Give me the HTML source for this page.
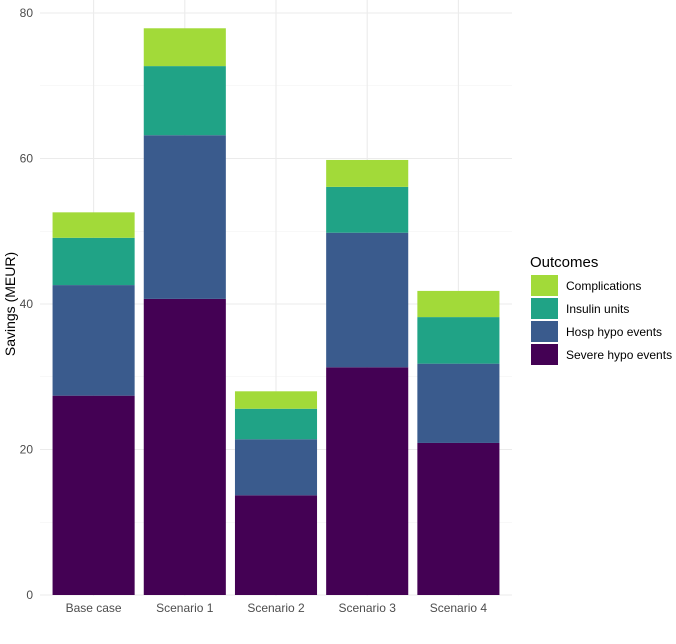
<!DOCTYPE html>
<html><head><meta charset="utf-8"><style>
body{margin:0;background:#fff;font-family:"Liberation Sans",Arial,sans-serif;}
</style></head><body>
<svg id="chart" width="676" height="639" xmlns="http://www.w3.org/2000/svg"></svg>
<script>
const categories=["Base case","Scenario 1","Scenario 2","Scenario 3","Scenario 4"];
const severe=[27.4,40.7,13.7,31.3,20.9];
const hosp=[15.2,22.5,7.7,18.5,10.9];
const insulin=[6.5,9.5,4.2,6.3,6.4];
const complications=[3.5,5.2,2.4,3.7,3.6];
const yTicks=[0,20,40,60,80];
const seriesNames=["Severe hypo events","Hosp hypo events","Insulin units","Complications"];
const colors=["#440154","#3A5B8D","#20A386","#A2DA39"];
const series=[severe,hosp,insulin,complications];

const svg=document.getElementById('chart');
const NS="http://www.w3.org/2000/svg";
const L=48,R=504,y0=595,yTop=13,yMax=80;
const GL=40,GR=512;
const y=v=>y0-(v/yMax)*(y0-yTop);
const band=(R-L)/categories.length;
const xc=i=>L+band*(i+0.5);
const bw=band*0.9;
function el(t,a,txt){const e=document.createElementNS(NS,t);for(const k in a)e.setAttribute(k,a[k]);if(txt!=null)e.textContent=txt;svg.appendChild(e);return e;}
for(let i=0;i<yTicks.length-1;i++){const m=(yTicks[i]+yTicks[i+1])/2;
 const g=el('line',{x1:GL,x2:GR,y1:y(m),y2:y(m),stroke:'#f2f2f2','stroke-width':0.6});
 
 }
yTicks.forEach(t=>{
 const g=el('line',{x1:GL,x2:GR,y1:y(t),y2:y(t),stroke:'#ebebeb','stroke-width':1.1});
 
 
 const tx=el('text',{x:33,y:y(t)+4,'text-anchor':'end','font-size':12,fill:'#4d4d4d'},t);
 
 
});
categories.forEach((c,i)=>{
 const g=el('line',{x1:xc(i),x2:xc(i),y1:0,y2:y0+1,stroke:'#ebebeb','stroke-width':1.1});
 
 
});
categories.forEach((c,i)=>{
 let cum=0;
 series.forEach((s,k)=>{
  const r=el('rect',{x:xc(i)-bw/2,y:y(cum+s[i]),width:bw,height:y(cum)-y(cum+s[i]),fill:colors[k]});
  
  
  cum+=s[i];
 });
 const tx=el('text',{x:xc(i),y:y0+17,'text-anchor':'middle','font-size':12,fill:'#4d4d4d'},c);
 
 
});
const yt=el('text',{x:0,y:0,transform:'translate(15,304) rotate(-90)','text-anchor':'middle','font-size':14,fill:'#000'},'Savings (MEUR)');


const lt=el('text',{x:530,y:267,'font-size':15,fill:'#000'},'Outcomes');


for(let j=0;j<4;j++){const k=3-j;const yy=275+j*23;
 const r=el('rect',{x:531,y:yy,width:27,height:21,fill:colors[k]});
 
 
 const tx=el('text',{x:566,y:yy+15,'font-size':12,fill:'#000'},seriesNames[k]);
 
 
}
</script>
</body></html>
